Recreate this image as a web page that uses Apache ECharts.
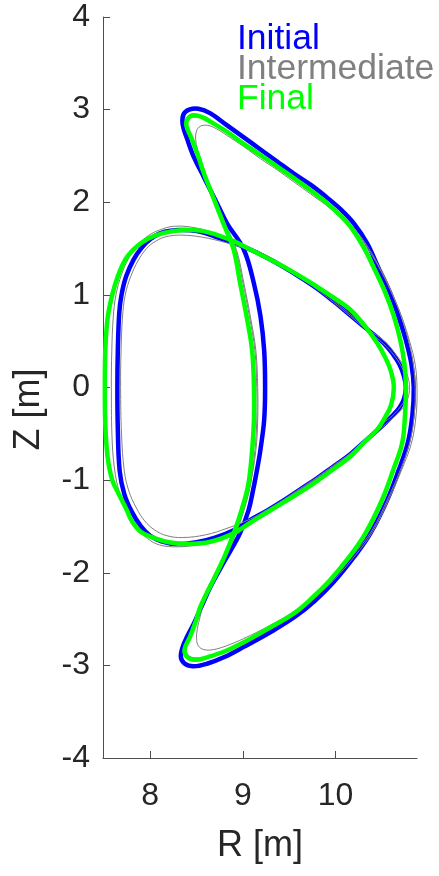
<!DOCTYPE html>
<html>
<head>
<meta charset="utf-8">
<script src="https://cdn.jsdelivr.net/npm/echarts@6/dist/echarts.min.js"></script>
<style>
html,body{margin:0;padding:0;background:#fff;}
#chart{width:439px;height:876px;}
</style>
</head>
<body>
<div id="chart"></div>
<script>
// Axis ticks
const xTicks = [8, 9, 10];
const yTicks = [-4, -3, -2, -1, 0, 1, 2, 3, 4];
const legendNames = ['Initial', 'Intermediate', 'Final'];

// Plasma boundary (D shape), closed loops of [R, Z]
const initialD = [[7.645,0.00],[7.65,0.40],[7.665,0.80],[7.69,1.00],[7.74,1.20],[7.82,1.38],[7.90,1.50],[8.00,1.60],[8.12,1.67],[8.30,1.70],[8.50,1.69],[8.70,1.63],[8.90,1.56],[9.08,1.49],[9.26,1.40],[9.44,1.30],[9.62,1.19],[9.80,1.07],[9.98,0.93],[10.16,0.78],[10.34,0.63],[10.52,0.48],[10.62,0.36],[10.69,0.25],[10.74,0.12],[10.76,0.00],[10.74,-0.12],[10.69,-0.22],[10.60,-0.32],[10.52,-0.40],[10.34,-0.56],[10.16,-0.72],[9.98,-0.85],[9.80,-0.98],[9.62,-1.10],[9.44,-1.22],[9.26,-1.33],[9.08,-1.43],[8.90,-1.54],[8.70,-1.62],[8.50,-1.67],[8.29,-1.69],[8.12,-1.66],[8.00,-1.60],[7.90,-1.50],[7.80,-1.34],[7.72,-1.15],[7.67,-0.90],[7.65,-0.45]];
const finalD = [[7.51,0.00],[7.515,0.40],[7.54,0.75],[7.59,1.00],[7.65,1.20],[7.73,1.38],[7.81,1.48],[7.90,1.56],[8.05,1.64],[8.25,1.69],[8.47,1.70],[8.65,1.67],[8.90,1.58],[9.08,1.49],[9.26,1.40],[9.44,1.305],[9.62,1.20],[9.80,1.09],[9.98,0.97],[10.16,0.84],[10.32,0.66],[10.45,0.48],[10.54,0.32],[10.60,0.17],[10.63,0.00],[10.60,-0.19],[10.53,-0.33],[10.45,-0.455],[10.30,-0.60],[10.16,-0.745],[9.98,-0.88],[9.80,-1.01],[9.62,-1.13],[9.44,-1.24],[9.26,-1.35],[9.08,-1.46],[8.90,-1.575],[8.65,-1.665],[8.40,-1.69],[8.20,-1.67],[8.03,-1.62],[7.90,-1.56],[7.80,-1.44],[7.745,-1.32],[7.66,-1.15],[7.59,-1.00],[7.54,-0.75],[7.515,-0.40]];
const interD1 = [[7.58,0.00],[7.585,0.40],[7.60,0.75],[7.63,1.00],[7.69,1.22],[7.77,1.40],[7.87,1.54],[7.98,1.64],[8.10,1.70],[8.25,1.74],[8.45,1.73],[8.65,1.68],[8.90,1.58],[9.08,1.50],[9.26,1.41],[9.44,1.31],[9.62,1.20],[9.80,1.08],[9.98,0.94],[10.16,0.79],[10.34,0.64],[10.54,0.49],[10.65,0.36],[10.73,0.24],[10.78,0.12],[10.80,0.00],[10.78,-0.12],[10.72,-0.23],[10.62,-0.33],[10.54,-0.40],[10.34,-0.56],[10.16,-0.72],[9.98,-0.85],[9.80,-0.98],[9.62,-1.10],[9.44,-1.22],[9.26,-1.34],[9.08,-1.45],[8.90,-1.57],[8.70,-1.65],[8.50,-1.70],[8.29,-1.72],[8.10,-1.70],[7.97,-1.63],[7.86,-1.52],[7.76,-1.36],[7.68,-1.17],[7.625,-0.95],[7.59,-0.60]];
const interD2 = [[7.68,0.00],[7.685,0.40],[7.70,0.75],[7.73,1.00],[7.79,1.20],[7.87,1.37],[7.96,1.50],[8.06,1.58],[8.18,1.63],[8.33,1.645],[8.55,1.625],[8.83,1.56],[9.08,1.48],[9.26,1.39],[9.44,1.29],[9.62,1.18],[9.80,1.06],[9.98,0.92],[10.16,0.77],[10.34,0.62],[10.52,0.47],[10.63,0.35],[10.71,0.23],[10.76,0.11],[10.78,0.00],[10.76,-0.11],[10.70,-0.21],[10.61,-0.31],[10.52,-0.38],[10.34,-0.55],[10.16,-0.71],[9.98,-0.84],[9.80,-0.97],[9.62,-1.09],[9.44,-1.21],[9.26,-1.32],[9.08,-1.42],[8.83,-1.52],[8.60,-1.59],[8.35,-1.62],[8.18,-1.60],[8.05,-1.54],[7.94,-1.44],[7.85,-1.30],[7.77,-1.12],[7.72,-0.90],[7.69,-0.50]];

// Crescent shape, closed loops of [R, Z]
const initialC = [[9.24,0.00],[9.23,0.40],[9.19,0.77],[9.12,1.12],[9.01,1.49],[8.83,1.77],[8.74,1.95],[8.65,2.13],[8.56,2.31],[8.47,2.49],[8.40,2.68],[8.35,2.84],[8.36,2.95],[8.42,3.00],[8.52,3.01],[8.65,2.96],[8.83,2.83],[9.01,2.70],[9.19,2.57],[9.37,2.44],[9.55,2.31],[9.73,2.19],[9.91,2.05],[10.06,1.92],[10.20,1.77],[10.34,1.56],[10.46,1.30],[10.59,1.02],[10.68,0.77],[10.76,0.51],[10.82,0.25],[10.845,0.00],[10.83,-0.30],[10.78,-0.60],[10.68,-0.90],[10.56,-1.21],[10.38,-1.57],[10.20,-1.83],[9.98,-2.10],[9.78,-2.30],[9.57,-2.47],[9.30,-2.64],[9.01,-2.80],[8.80,-2.91],[8.62,-2.98],[8.47,-3.01],[8.37,-2.98],[8.33,-2.90],[8.37,-2.75],[8.47,-2.55],[8.56,-2.35],[8.65,-2.15],[8.81,-1.86],[8.97,-1.57],[9.06,-1.33],[9.11,-1.11],[9.16,-0.85],[9.19,-0.67],[9.23,-0.35]];
const finalC = [[9.12,0.00],[9.10,0.40],[9.04,0.77],[8.97,1.13],[8.90,1.49],[8.79,1.77],[8.72,1.95],[8.65,2.13],[8.58,2.31],[8.52,2.49],[8.45,2.68],[8.39,2.83],[8.41,2.91],[8.47,2.94],[8.56,2.92],[8.65,2.87],[8.83,2.76],[9.01,2.63],[9.19,2.51],[9.37,2.385],[9.55,2.26],[9.73,2.13],[9.91,1.99],[10.04,1.87],[10.16,1.74],[10.30,1.52],[10.42,1.28],[10.54,1.02],[10.63,0.77],[10.70,0.51],[10.745,0.25],[10.76,0.00],[10.75,-0.30],[10.72,-0.60],[10.62,-0.90],[10.50,-1.22],[10.32,-1.58],[10.14,-1.84],[9.94,-2.08],[9.75,-2.27],[9.55,-2.44],[9.28,-2.60],[9.01,-2.75],[8.80,-2.85],[8.62,-2.91],[8.49,-2.94],[8.40,-2.91],[8.37,-2.83],[8.43,-2.69],[8.49,-2.53],[8.54,-2.37],[8.61,-2.22],[8.68,-2.08],[8.80,-1.83],[8.90,-1.58],[8.99,-1.31],[9.06,-1.04],[9.10,-0.68],[9.12,-0.35]];
const interC1 = [[9.15,0.00],[9.13,0.40],[9.07,0.77],[9.00,1.13],[8.92,1.49],[8.80,1.77],[8.73,1.95],[8.66,2.12],[8.59,2.30],[8.53,2.48],[8.46,2.67],[8.40,2.82],[8.42,2.90],[8.49,2.92],[8.58,2.90],[8.66,2.86],[8.83,2.75],[9.01,2.62],[9.19,2.49],[9.37,2.37],[9.55,2.24],[9.73,2.11],[9.91,1.98],[10.06,1.85],[10.20,1.72],[10.36,1.50],[10.50,1.25],[10.62,1.00],[10.72,0.75],[10.80,0.50],[10.86,0.25],[10.88,0.00],[10.87,-0.30],[10.82,-0.60],[10.71,-0.90],[10.58,-1.20],[10.40,-1.56],[10.20,-1.83],[9.98,-2.08],[9.78,-2.26],[9.57,-2.43],[9.30,-2.59],[9.01,-2.74],[8.80,-2.84],[8.63,-2.90],[8.50,-2.92],[8.41,-2.89],[8.39,-2.81],[8.44,-2.68],[8.50,-2.52],[8.55,-2.37],[8.62,-2.22],[8.69,-2.08],[8.81,-1.83],[8.92,-1.57],[9.01,-1.31],[9.08,-1.06],[9.13,-0.68],[9.15,-0.35]];
const interC2 = [[9.16,0.00],[9.14,0.40],[9.08,0.77],[9.01,1.13],[8.93,1.49],[8.81,1.77],[8.74,1.95],[8.67,2.12],[8.61,2.27],[8.56,2.42],[8.51,2.57],[8.49,2.68],[8.50,2.77],[8.54,2.82],[8.62,2.83],[8.72,2.79],[8.83,2.72],[9.01,2.60],[9.19,2.47],[9.37,2.35],[9.55,2.22],[9.73,2.09],[9.91,1.96],[10.06,1.83],[10.20,1.70],[10.36,1.48],[10.50,1.24],[10.62,0.99],[10.72,0.74],[10.79,0.50],[10.84,0.25],[10.86,0.00],[10.85,-0.30],[10.80,-0.60],[10.70,-0.89],[10.57,-1.19],[10.39,-1.55],[10.19,-1.81],[9.97,-2.06],[9.77,-2.24],[9.56,-2.41],[9.29,-2.57],[9.01,-2.71],[8.82,-2.79],[8.68,-2.83],[8.58,-2.83],[8.52,-2.79],[8.50,-2.71],[8.51,-2.60],[8.54,-2.47],[8.57,-2.35],[8.63,-2.21],[8.70,-2.07],[8.82,-1.82],[8.93,-1.56],[9.02,-1.30],[9.08,-1.05],[9.14,-0.68],[9.16,-0.35]];

const BLUE = '#0000ff', GRAY = '#808080', GREEN = '#00ff00';
const FONT = 'Liberation Sans, Arial, Helvetica, sans-serif';

// Each closed boundary is drawn as one smooth closed path, positioned via the axes' scales.
function curve(name, data, color, width) {
  return {
    name: name, type: 'custom', coordinateSystem: 'cartesian2d',
    data: data, encode: { x: 0, y: 1 }, silent: true, clip: false,
    itemStyle: { color: color },
    renderItem: function (params, api) {
      if (params.dataIndex !== 0) return null;
      const pts = data.map(function (p) { return api.coord(p); });
      return {
        type: 'polygon',
        shape: { points: pts, smooth: 0.38 },
        style: { fill: 'none', stroke: color, lineWidth: width, lineJoin: 'round' },
        silent: true
      };
    },
    z: 2
  };
}

const chart = echarts.init(document.getElementById('chart'), null, { renderer: 'canvas' });
chart.setOption({
  animation: false,
  backgroundColor: '#ffffff',
  grid: { left: 103, right: 22, top: 17, bottom: 118, containLabel: false, outerBoundsMode: 'none' },
  legend: {
    orient: 'vertical', left: 232, top: 21, padding: 0,
    itemWidth: 0, itemHeight: 0, itemGap: -6,
    icon: 'none', selectedMode: false,
    textStyle: { fontSize: 35.5, fontFamily: FONT },
    data: [
      { name: legendNames[0], textStyle: { color: BLUE } },
      { name: legendNames[1], textStyle: { color: GRAY } },
      { name: legendNames[2], textStyle: { color: GREEN } }
    ]
  },
  xAxis: {
    type: 'value', min: 7.49, max: 10.88,
    name: 'R [m]', nameLocation: 'middle', nameGap: 70,
    nameTextStyle: { fontSize: 36, color: '#262626', fontFamily: FONT },
    axisLine: { show: true, onZero: false, lineStyle: { color: '#4d4d4d', width: 1 } },
    axisTick: { show: true, inside: true, length: 7, customValues: xTicks, lineStyle: { color: '#4d4d4d' } },
    axisLabel: { customValues: xTicks, fontSize: 32, color: '#262626', fontFamily: FONT, margin: 22 },
    splitLine: { show: false }
  },
  yAxis: {
    type: 'value', min: -4, max: 4, interval: 1,
    name: 'Z [m]', nameLocation: 'middle', nameGap: 56,
    nameTextStyle: { fontSize: 36, color: '#262626', fontFamily: FONT, padding: [0, 44, 0, 0] },
    axisLine: { show: true, onZero: false, lineStyle: { color: '#4d4d4d', width: 1 } },
    axisTick: { show: true, inside: true, length: 7, customValues: yTicks, lineStyle: { color: '#4d4d4d' } },
    axisLabel: { customValues: yTicks, fontSize: 32, color: '#262626', fontFamily: FONT, margin: 13 },
    splitLine: { show: false }
  },
  series: [
    curve('Initial', initialD, BLUE, 4.5),
    curve('Initial', initialC, BLUE, 4.5),
    curve('Intermediate', interD1, GRAY, 1),
    curve('Intermediate', interD2, GRAY, 1),
    curve('Intermediate', interC1, GRAY, 1),
    curve('Intermediate', interC2, GRAY, 1),
    curve('Final', finalD, GREEN, 4.5),
    curve('Final', finalC, GREEN, 4.5)
  ]
});
</script>
</body>
</html>
